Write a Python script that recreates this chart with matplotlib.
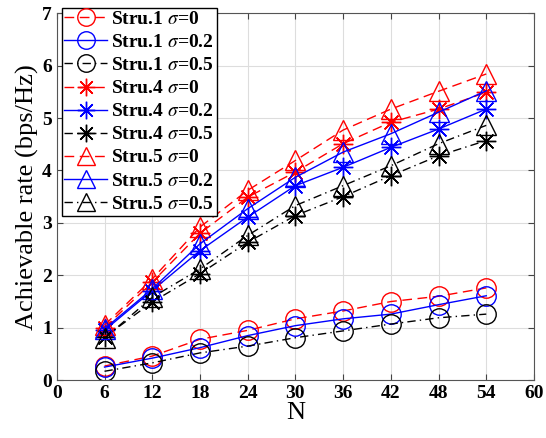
import matplotlib
matplotlib.use("Agg")
import matplotlib.pyplot as plt

plt.rcParams['font.family'] = ['Liberation Serif', 'DejaVu Serif']
plt.rcParams['mathtext.fontset'] = 'stix'

# data
N = [6, 12, 18, 24, 30, 36, 42, 48, 54]

s1_0 = [0.27, 0.46, 0.78, 0.95, 1.17, 1.32, 1.50, 1.60, 1.76]
s1_02 = [0.25, 0.42, 0.62, 0.85, 1.04, 1.17, 1.26, 1.44, 1.61]
s1_05 = [0.17, 0.33, 0.52, 0.65, 0.81, 0.94, 1.07, 1.19, 1.26]

s4_0 = [1.00, 1.87, 2.80, 3.49, 3.97, 4.51, 4.92, 5.17, 5.49]
s4_02 = [0.95, 1.71, 2.47, 3.11, 3.71, 4.06, 4.44, 4.79, 5.17]
s4_05 = [0.82, 1.49, 2.03, 2.63, 3.14, 3.50, 3.90, 4.28, 4.57]

s5_0 = [1.05, 1.93, 2.92, 3.62, 4.19, 4.77, 5.17, 5.51, 5.84]
s5_02 = [0.98, 1.74, 2.60, 3.27, 3.87, 4.35, 4.70, 5.11, 5.52]
s5_05 = [0.80, 1.58, 2.12, 2.76, 3.33, 3.71, 4.09, 4.51, 4.86]

labels = [r'Stru.1 $\sigma$=0', r'Stru.1 $\sigma$=0.2', r'Stru.1 $\sigma$=0.5',
          r'Stru.4 $\sigma$=0', r'Stru.4 $\sigma$=0.2', r'Stru.4 $\sigma$=0.5',
          r'Stru.5 $\sigma$=0', r'Stru.5 $\sigma$=0.2', r'Stru.5 $\sigma$=0.5']

series = [s1_0, s1_02, s1_05, s4_0, s4_02, s4_05, s5_0, s5_02, s5_05]
colors = ['red', 'blue', 'black'] * 3
# matlab-like dash patterns: red dashed, blue solid, black dash-dot
styles = [(0, (7, 4)), '-', (0, (6, 3, 1, 3))] * 3
asterisk = (8, 2, 0)
markers = ['o'] * 3 + [asterisk] * 3 + ['^'] * 3

fig = plt.figure(figsize=(5.46, 4.38), dpi=100)
ax = fig.add_axes([0.104, 0.132, 0.874, 0.838])

for y, c, ls, m, lab in zip(series, colors, styles, markers, labels):
    ax.plot(N, y, color=c, linestyle=ls, marker=m, markersize=14,
            markerfacecolor='none', markeredgecolor=c, markeredgewidth=1.0,
            linewidth=1.0, label=lab)

ax.set_xlim(0, 60)
ax.set_ylim(0, 7)
ax.set_xticks(range(0, 61, 6))
ax.set_yticks(range(0, 8))
ax.grid(True, color='#dddddd', linewidth=0.8)
ax.set_axisbelow(True)
ax.tick_params(direction='in', top=True, right=True, labelsize=14, length=4,
               color='#444444')
for lbl in ax.get_xticklabels() + ax.get_yticklabels():
    lbl.set_fontweight('bold')
for sp in ax.spines.values():
    sp.set_color('#555555')

ax.set_xlabel('N', fontsize=19, labelpad=0)
ax.set_ylabel('Achievable rate (bps/Hz)', fontsize=19, labelpad=2)

leg = ax.legend(loc='upper left', bbox_to_anchor=(0.01, 1.015),
                prop={'weight': 'bold', 'size': 14}, fancybox=False,
                framealpha=1, edgecolor='black', handlelength=2.2,
                handletextpad=0.2, labelspacing=0.28, borderpad=0.15,
                borderaxespad=0, markerscale=0.9)
leg.get_frame().set_linewidth(1.0)

fig.savefig('out.png', dpi=100)
